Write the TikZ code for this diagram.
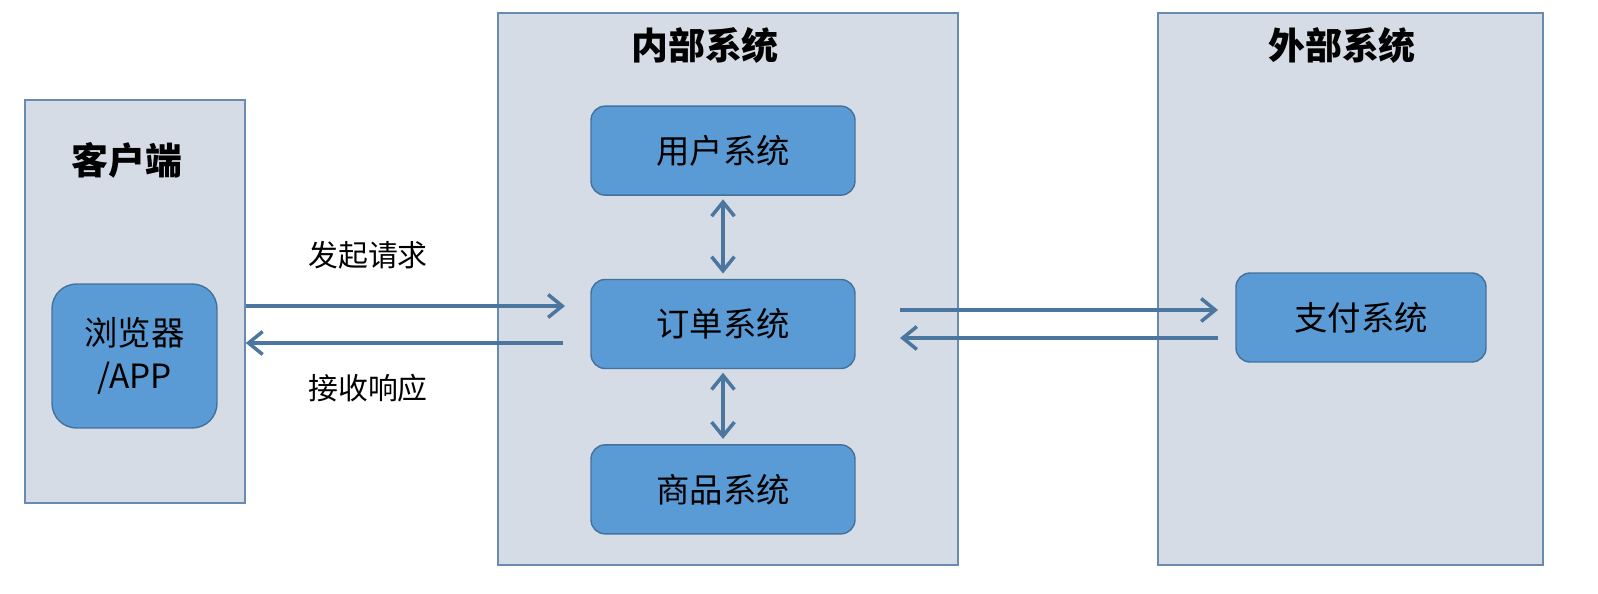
\documentclass[tikz,border=0pt]{standalone}
\usepackage{fontspec}
\setmainfont{Noto Sans CJK SC}
\usepackage{xcolor}
\usetikzlibrary{arrows.meta, positioning}

\definecolor{groupfill}{HTML}{D6DCE5}
\definecolor{groupline}{HTML}{6A8BB0}
\definecolor{sysfill}{HTML}{5B9BD5}
\definecolor{sysline}{HTML}{41719C}
\definecolor{flowblue}{HTML}{4A76A0}

\begin{document}
\begin{tikzpicture}[
    x=0.02cm, y=-0.02cm,
    group/.style={rectangle, draw=groupline, fill=groupfill, line width=0.9pt, inner sep=0pt},
    sys/.style={rectangle, rounded corners=8pt, draw=sysline, fill=sysfill, line width=0.8pt,
        minimum width=5.28cm, minimum height=1.78cm, font=\fontsize{19}{24}\selectfont},
    title/.style={font=\fontsize{21}{24}\selectfont\bfseries},
    note/.style={font=\fontsize{17}{20}\selectfont},
    flow/.style={draw=flowblue, line width=2pt},
    >={Straight Barb[length=8pt, width=13pt]}
]
\useasboundingbox (0,0) rectangle (1598,594);

% Groups
\node[group, minimum width=4.4cm, minimum height=8.06cm] (client) at (135,301.5) {};
\node[group, minimum width=9.2cm, minimum height=11.04cm] (inner) at (728,289) {};
\node[group, minimum width=7.7cm, minimum height=11.04cm] (outer) at (1350.5,289) {};

\node[title] (clienttitle) at (127,160) {客户端};
\node[title] (innertitle) at (705,45) {内部系统};
\node[title] (outertitle) at (1342,45) {外部系统};

% Systems
\node[sys, minimum width=3.3cm, minimum height=2.88cm, rounded corners=14pt, align=center] (browser) at (134.5,356) {浏览器\\/APP};
\node[sys] (order) at (723,324) {订单系统};
\node[sys, above=1.66cm of order] (user) {用户系统};
\node[sys, below=1.5cm of order] (goods) {商品系统};
\node[sys, minimum width=5cm] (pay) at (1361,317.5) {支付系统};

% Client <-> order
\coordinate (reqend) at (565,306);
\coordinate (respstart) at (563,343);
\draw[flow, ->] (client.east |- reqend) -- (reqend);
\draw[flow, ->] (respstart) -- (client.east |- respstart);
\node[note] (reqlabel) at (368,255) {发起请求};
\node[note] (resplabel) at (368,388) {接收响应};

% Order <-> pay
\coordinate (payin) at (1218,310);
\coordinate (payout) at (1218,338);
\coordinate (orderout) at (900,310);
\coordinate (orderin) at (900,338);
\draw[flow, ->] (orderout) -- (payin);
\draw[flow, ->] (payout) -- (orderin);

% Inside the inner system
\draw[flow, <->, shorten <=2pt, shorten >=3pt] (user) -- (order);
\draw[flow, <->, shorten <=2pt, shorten >=3pt] (order) -- (goods);

\end{tikzpicture}
\end{document}
